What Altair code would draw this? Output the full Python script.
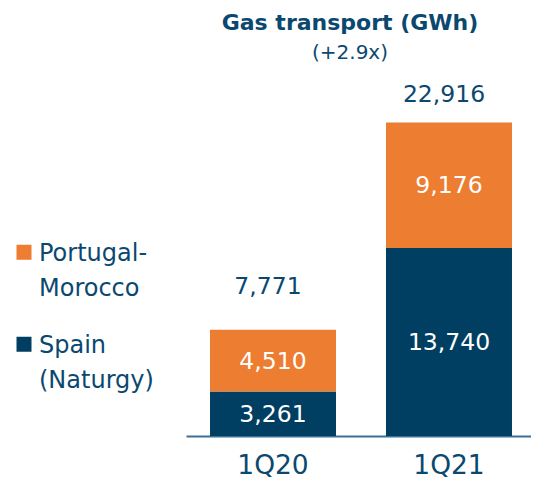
import altair as alt
import pandas as pd

quarters = ["1Q20", "1Q21"]
series_names = ["Portugal-Morocco", "Spain (Naturgy)"]
legend_lines = [["Portugal-", "Morocco"], ["Spain", "(Naturgy)"]]
spain = [3261, 13740]
portugal_morocco = [4510, 9176]
totals = [7771, 22916]

ORANGE = "#ED7D31"
NAVY = "#003F62"
TEXT = "#0B4870"
FONT = "DejaVu Sans"

rows = []
for i, q in enumerate(quarters):
    rows.append({"quarter": q, "series": series_names[1], "value": spain[i],
                 "ord": 0, "mid": spain[i] / 2, "label": f"{spain[i]:,}"})
    rows.append({"quarter": q, "series": series_names[0], "value": portugal_morocco[i],
                 "ord": 1, "mid": spain[i] + portugal_morocco[i] / 2,
                 "label": f"{portugal_morocco[i]:,}"})
df = pd.DataFrame(rows)
tot = pd.DataFrame({"quarter": quarters, "total": totals,
                    "label": [f"{t:,}" for t in totals]})

xenc = alt.X("quarter:N", sort=quarters,
             scale=alt.Scale(paddingInner=0.284, paddingOuter=0.1222, align=0.558),
             axis=alt.Axis(title=None, labelAngle=0, ticks=False, tickSize=0,
                           labelFont=FONT, labelFontSize=26.5, labelColor=TEXT,
                           labelPadding=16, domainColor="#3B6E99", domainWidth=2))
yscale = alt.Scale(domain=[0, 26760], nice=False)

label_expr = " : ".join(
    [f"datum.label == '{n}' ? {l}" for n, l in zip(series_names[:-1], legend_lines[:-1])]
    + [str(legend_lines[-1])]
)

bars = alt.Chart(df).mark_bar().encode(
    x=xenc,
    y=alt.Y("value:Q", stack="zero", scale=yscale, axis=None),
    color=alt.Color("series:N",
                    scale=alt.Scale(domain=series_names, range=[ORANGE, NAVY]),
                    legend=alt.Legend(title=None, orient="none", legendX=-174, legendY=160,
                                      symbolType="M-1,0.367H1V2.367H-1Z", symbolSize=225,
                                      symbolStrokeWidth=0, symbolOpacity=1,
                                      labelFont=FONT, labelFontSize=24, labelColor=TEXT,
                                      labelBaseline="top", labelOffset=3, labelLimit=300,
                                      rowPadding=21, padding=0, labelExpr=label_expr)),
    order=alt.Order("ord:Q"),
)

seg_text = alt.Chart(df).mark_text(font=FONT, fontSize=23.5, color="white",
                                   baseline="middle", dy=1).encode(
    x=alt.X("quarter:N", sort=quarters),
    y=alt.Y("mid:Q", scale=yscale),
    text="label:N",
)

tot_base = alt.Chart(tot).encode(
    x=alt.X("quarter:N", sort=quarters),
    y=alt.Y("total:Q", scale=yscale),
    text="label:N",
)
tot1 = tot_base.transform_filter(alt.datum.quarter == quarters[0]).mark_text(
    font=FONT, fontSize=23.5, color=TEXT, baseline="alphabetic", dy=-36, dx=-5)
tot2 = tot_base.transform_filter(alt.datum.quarter == quarters[1]).mark_text(
    font=FONT, fontSize=23.5, color=TEXT, baseline="alphabetic", dy=-20.6, dx=-5)

chart = alt.layer(bars, seg_text, tot1, tot2).properties(
    width=345, height=366,
    padding={"left": 178, "top": 62, "right": 0, "bottom": 42},
    autosize=alt.AutoSizeParams(type="none"),
    title=alt.TitleParams(text="Gas transport (GWh)", subtitle="(+2.9x)",
                          font=FONT, fontSize=22, fontWeight="bold", color=TEXT,
                          subtitleFont=FONT, subtitleFontSize=20, subtitleColor=TEXT,
                          subtitlePadding=8, offset=6, dx=-8.5, anchor="middle"),
).configure(style={"guide-label": {"lineHeight": 35}}).configure_view(stroke=None)

chart.save("out.html", embed_options={"renderer": "svg", "actions": False})
